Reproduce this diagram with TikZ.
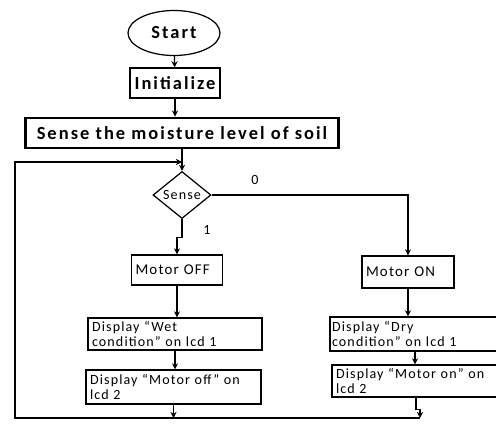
\documentclass[tikz,border=0pt]{standalone}
\usepackage{fontspec}
\setmainfont{Carlito}
\newfontfamily\spaced[LetterSpace=11]{Carlito}
\newfontfamily\spacedsmall[LetterSpace=8]{Carlito}
\usetikzlibrary{shapes.geometric,arrows.meta}

\begin{document}
\begin{tikzpicture}[x=0.02cm,y=-0.02cm,line width=0.7pt,
		arr/.style={-{Stealth[length=3.5pt,width=3.5pt]}},
		term/.style={draw,ellipse,inner sep=0pt,font=\spaced\bfseries\fontsize{10.5}{12}\selectfont},
		box/.style={draw,rectangle,inner sep=0pt,font=\spaced\bfseries\fontsize{10.5}{12}\selectfont},
		dec/.style={draw,diamond,inner sep=0pt,font=\spacedsmall\fontsize{8}{9}\selectfont},
		smallbox/.style={draw,rectangle,align=left,inner xsep=0.08cm,inner ysep=0pt,font=\spacedsmall\fontsize{8}{8.6}\selectfont},
		lbl/.style={font=\fontsize{8}{9}\selectfont}]
				\useasboundingbox (0,0) rectangle (496,423);
				% upper part
				\node[term,minimum width=1.84cm,minimum height=0.9cm] (start) at (174,33) {Start};
				\node[box,minimum width=1.8cm,minimum height=0.6cm] (init) at (175,83) {Initialize};
				\node[box,line width=1.6pt,minimum width=6.26cm,minimum height=0.6cm] (sense) at (182,133) {Sense the moisture level of soil};
				\node[dec,minimum width=1.16cm,minimum height=0.92cm] (test) at (182,195) {Sense};
				\node[lbl] (zero) at (255,180) {0};
				\node[lbl] (one) at (207,230) {1};
				% left branch
				\node[smallbox,minimum width=1.82cm,minimum height=0.6cm,text width=1.66cm,font=\spacedsmall\fontsize{8.5}{10}\selectfont] (off) at (177,270) {Motor OFF};
				\node[smallbox,minimum width=3.48cm,minimum height=0.64cm,text width=3.32cm] (wet) at (175,334) {Display “Wet\\condition” on lcd 1};
				\node[smallbox,minimum width=3.5cm,minimum height=0.68cm,text width=3.34cm] (moff) at (173.5,387) {Display “Motor off” on\\lcd 2};
				% right branch
				\node[smallbox,minimum width=1.84cm,minimum height=0.64cm,text width=1.68cm,font=\spacedsmall\fontsize{8.5}{10}\selectfont] (on) at (408,272) {Motor ON};
				\node[smallbox,inner xsep=0.04cm,minimum width=3.4cm,minimum height=0.68cm,text width=3.32cm] (dry) at (415,334) {Display “Dry\\condition” on lcd 1};
				\node[smallbox,minimum width=3.36cm,minimum height=0.64cm,text width=3.2cm] (mon) at (416,381) {Display “Motor on” on\\lcd 2};
				% loop back
				\coordinate (bl) at (15,418);
				\coordinate (tl) at (15,162);
				\coordinate (br) at (420,418);
				% connectors
				\draw[arr] (start) -- (init);
				\draw[arr] (init.south) -- (init.south |- sense.north);
				\draw[arr] (sense) -- (test);
				\draw[arr] (br) -- (bl) -- (tl) -- (tl -| test.north);
				\draw[arr] (test.east) -| (on.north);
				\draw[arr] (test.south) -- ++(0,18) -| (off.north);
				\draw[arr] (off.south) -- (off.south |- wet.north);
				\draw[arr] (wet.south) -- (wet.south |- moff.north);
				\draw[arr] (moff.south) -- (moff.south |- bl);
				\draw[arr] (on.south) -- (on.south |- dry.north);
				\draw[arr] (dry.south) -- (dry.south |- mon.north);
				\draw[arr] (mon.south) -- ++(0,12) -| (br);
\end{tikzpicture}
\end{document}
